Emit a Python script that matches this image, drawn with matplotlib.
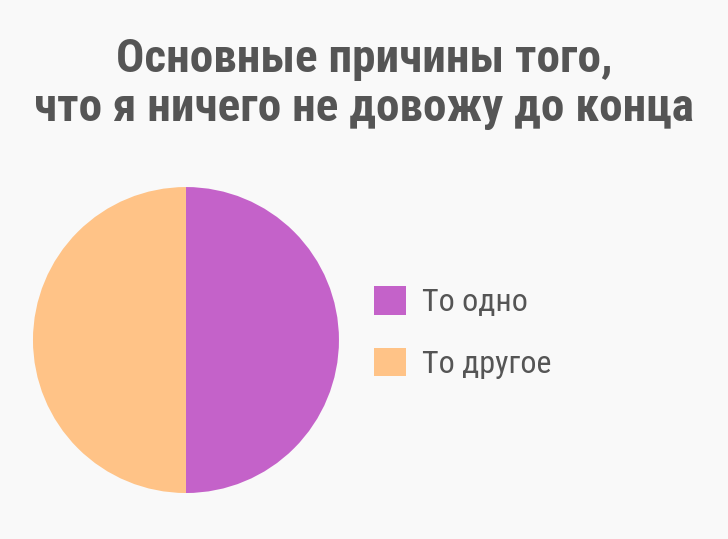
import matplotlib.pyplot as plt

labels = ["То одно", "То другое"]
shares = [50, 50]
colors = ["#c462c9", "#ffc387"]
title = "Основные причины того,\nчто я ничего не довожу до конца"

bg = "#f9f9f9"
text_color = "#555555"
font = ["Roboto Condensed", "Roboto"]

fig = plt.figure(figsize=(7.28, 5.39), dpi=100, facecolor=bg)

# pie
ax = fig.add_axes([0.0453, 0.0853, 0.4203, 0.5677])
ax.set_facecolor(bg)
wedges, _ = ax.pie(shares, colors=colors, startangle=90, counterclock=False,
                   wedgeprops=dict(linewidth=0))
ax.set_xlim(-1, 1)
ax.set_ylim(-1, 1)
ax.set_aspect("equal")

# title
fig.text(0.5, 0.845, title, ha="center", va="center", fontsize=34,
         fontweight="bold", family=font, color=text_color, linespacing=1.12)

# legend
leg = fig.legend(wedges, labels, loc="center left",
                 bbox_to_anchor=(0.474, 0.383), frameon=False,
                 handlelength=1.0, handleheight=1.0,
                 handletextpad=0.5, labelspacing=0.95,
                 prop=dict(family=font, size=23))
for t in leg.get_texts():
    t.set_color(text_color)

fig.savefig("out.png", dpi=100, facecolor=bg)
